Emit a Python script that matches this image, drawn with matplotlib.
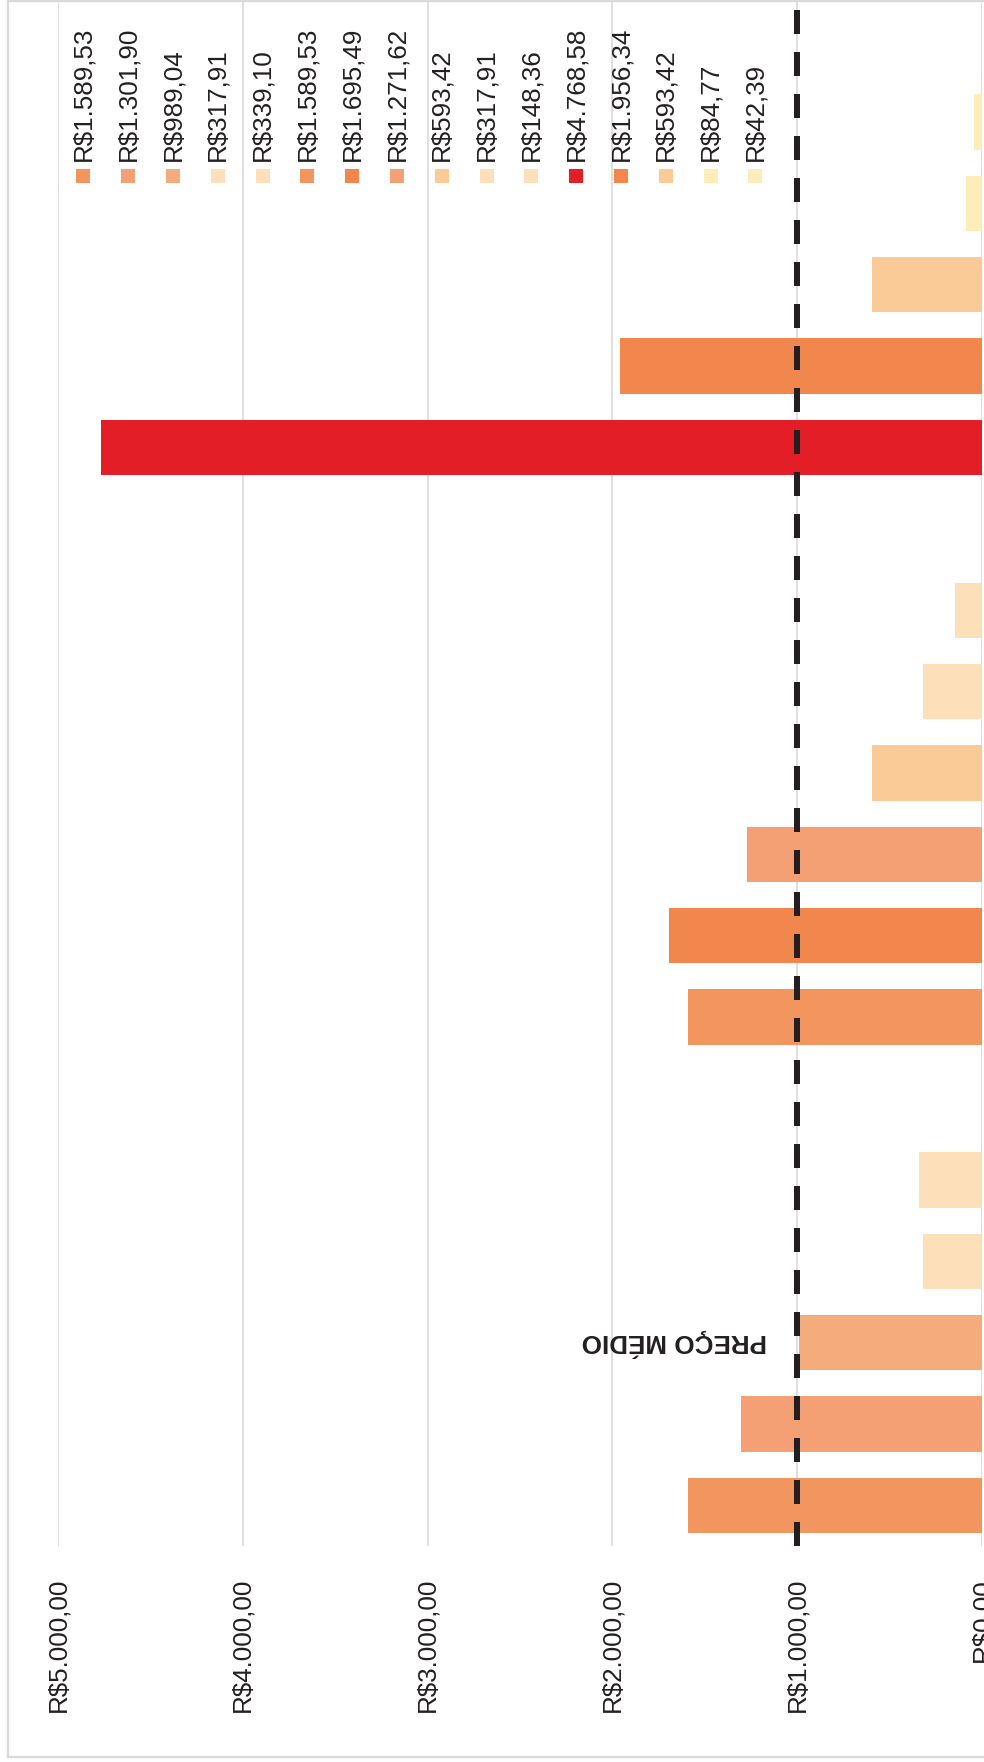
import matplotlib
matplotlib.use("Agg")
import matplotlib.pyplot as plt
from matplotlib.lines import Line2D
from matplotlib.patches import Rectangle
from matplotlib.ticker import FuncFormatter

plt.rcParams["font.family"] = ["Liberation Sans", "DejaVu Sans"]

# Bar values, grouped; one empty slot separates each group
group_a = [1589.53, 1301.90, 989.04, 317.91, 339.10]
group_b = [1589.53, 1695.49, 1271.62, 593.42, 317.91, 148.36]
group_c = [4768.58, 1956.34, 593.42, 84.77, 42.39]

colors_a = ["#F3955F", "#F4A074", "#F5AC7D", "#FDE0BA", "#FDE0BA"]
colors_b = ["#F3955F", "#F1874D", "#F4A074", "#FACB96", "#FDE0BA", "#FDE0BA"]
colors_c = ["#E41E26", "#F1874D", "#FACB96", "#FEEDB9", "#FEEDB9"]

average_price = 1000.0
average_label = "PREÇO MÉDIO"
value_ticks = [0, 1000, 2000, 3000, 4000, 5000]

TEXT = "#231F20"
GRID = "#D9D9D9"
FS = 18.7


def brl(v):
    return "R$" + f"{v:,.2f}".replace(",", "X").replace(".", ",").replace("X", ".")


groups = [group_a, group_b, group_c]
group_colors = [colors_a, colors_b, colors_c]

positions, values, colors = [], [], []
slot = 0
for g, c in zip(groups, group_colors):
    for v, col in zip(g, c):
        positions.append(slot)
        values.append(v)
        colors.append(col)
        slot += 1
    slot += 1  # blank slot between groups

W, H = 984, 1762
fig = plt.figure(figsize=(W / 100, H / 100), dpi=100)
fig.patch.set_facecolor("white")

# axes box in pixels: x from 58 to 982, y from 0 (top) to 1546
ax = fig.add_axes([58 / W, (H - 1546) / H, (982 - 58) / W, 1546 / H])
ax.set_facecolor("none")

ax.barh(positions, values, height=0.68, color=colors, zorder=2)
ax.set_xlim(5000, 0)
ax.set_ylim(-0.5, 18.5)

# average price reference line (6 px wide, 24 px dashes, 18 px gaps)
ax.axvline(average_price, color=TEXT, lw=4.32, linestyle=(0, (4.0, 3.0)),
           dash_capstyle="butt", zorder=3)
ax.text(1165, 2, average_label, rotation=180, ha="right", va="center",
        fontsize=FS, fontweight="bold", color=TEXT, zorder=4)

ax.set_xticks(value_ticks)
ax.xaxis.set_major_formatter(FuncFormatter(lambda v, p: brl(v)))
ax.tick_params(axis="x", length=0, pad=23, labelrotation=90, labelsize=FS,
               labelcolor=TEXT)
ax.set_yticks([])
ax.grid(axis="x", color=GRID, lw=1.2, zorder=0)
ax.set_axisbelow(True)
for s in ax.spines.values():
    s.set_visible(False)
for lbl in ax.get_xticklabels():
    lbl.set_va("top")

# legend: one swatch and one rotated label per bar
for i, (v, col) in enumerate(zip(values, colors)):
    cx = 83.4 + 44.8 * i
    fig.add_artist(Rectangle(((cx - 7) / W, (H - 183) / H), 14 / W, 14 / H,
                             transform=fig.transFigure, facecolor=col,
                             edgecolor="none"))
    fig.text(cx / W, (H - 161) / H, brl(v), rotation=90, ha="center",
             va="bottom", fontsize=FS, color=TEXT)

# outer frame
frame_kw = dict(transform=fig.transFigure, color=GRID, lw=1.6)
fig.add_artist(Line2D([7.5 / W, 7.5 / W], [(H - 1757) / H, 1.0], **frame_kw))
fig.add_artist(Line2D([7.5 / W, 1.0], [(H - 1757) / H, (H - 1757) / H], **frame_kw))
fig.add_artist(Line2D([7.5 / W, 1.0], [(H - 0.6) / H, (H - 0.6) / H], **frame_kw))

fig.savefig("out.png", dpi=100, facecolor="white")
